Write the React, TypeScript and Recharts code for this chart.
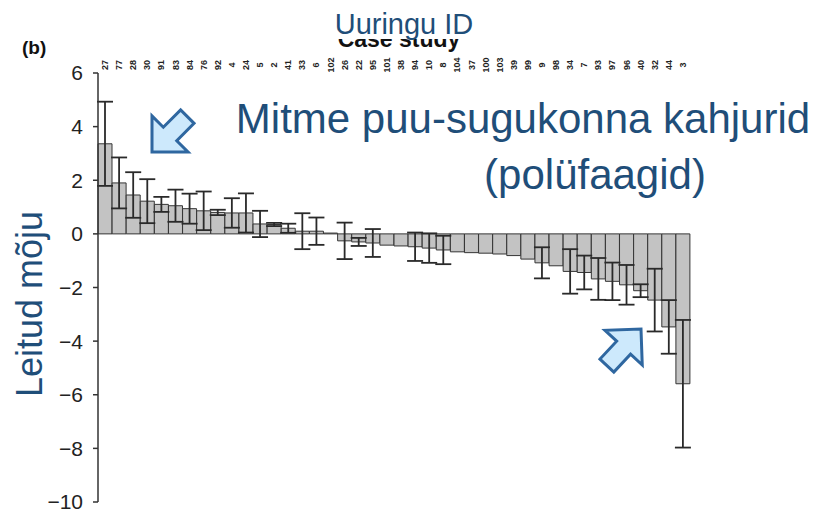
import React from "react";
import { BarChart, Bar, XAxis, YAxis, ErrorBar } from "recharts";

// case study ids along the top axis
const studyIds = [
  "27", "77", "28", "30", "91", "83", "84", "76", "92", "4", "24", "5", "2", "41",
  "33", "6", "102", "26", "22", "95", "101", "38", "94", "10", "8", "104", "37", "100",
  "103", "39", "99", "9", "98", "34", "7", "93", "97", "96", "40", "32", "44", "3",
];

const effects = [
  3.36, 1.9, 1.45, 1.22, 1.1, 1.05, 0.94, 0.86, 0.8, 0.78, 0.78, 0.37, 0.35, 0.21,
  0.1, 0.1, 0.03, -0.26, -0.3, -0.34, -0.42, -0.45, -0.48, -0.53, -0.6, -0.67, -0.7, -0.72,
  -0.75, -0.81, -0.94, -1.08, -1.19, -1.4, -1.44, -1.68, -1.77, -1.9, -2.12, -2.47, -3.47, -5.59,
];

const errors = [
  1.57, 0.95, 0.85, 0.82, 0.28, 0.6, 0.56, 0.72, 0.1, 0.55, 0.73, 0.49, 0.06, 0.17,
  0.67, 0.51, 0, 0.68, 0.15, 0.52, 0, 0, 0.53, 0.55, 0.53, 0, 0, 0,
  0, 0, 0, 0.58, 0, 0.83, 0.63, 0.78, 0.7, 0.74, 0.24, 1.17, 1.0, 2.38,
];

const yTicks = [6, 4, 2, 0, -2, -4, -6, -8, -10];

const data = studyIds.map((id, i) => ({ id, effect: effects[i], err: errors[i] }));

const FONT = "'Liberation Sans', Arial, sans-serif";
const BLUE = "#1f4e79";

function IdTick({ x, y, payload }: { x?: number; y?: number; payload?: { value: string } }) {
  return (
    <text
      x={x}
      y={y}
      transform={`rotate(-90, ${x}, ${y})`}
      textAnchor="middle"
      dominantBaseline="central"
      fontSize={9}
      fontWeight="bold"
      fontFamily={FONT}
      fill="#222"
    >
      {payload?.value}
    </text>
  );
}

// block arrow pointing along +x, tip at origin
const arrowShape = "0,0 -25.5,25.5 -25.5,9.5 -50,9.5 -50,-9.5 -25.5,-9.5 -25.5,-25.5";

function Arrow({ x, y, angle }: { x: number; y: number; angle: number }) {
  return (
    <polygon
      points={arrowShape}
      transform={`translate(${x},${y}) rotate(${angle})`}
      fill="#cde9fc"
      stroke="#2f67a0"
      strokeWidth={3}
      strokeLinejoin="miter"
    />
  );
}

export default function App() {
  return (
    <div style={{ position: "absolute", left: 0, top: 0, width: 831, height: 516, background: "#fff" }}>
      <BarChart
        width={831}
        height={516}
        data={data}
        margin={{ top: 53, right: 141, bottom: 14, left: 0 }}
        barCategoryGap={0}
        barGap={0}
      >
        <XAxis
          dataKey="id"
          orientation="top"
          height={20}
          interval={0}
          axisLine={false}
          tickLine={false}
          tick={<IdTick />}
        />
        <YAxis
          type="number"
          domain={[-10, 6]}
          ticks={yTicks}
          width={98}
          axisLine={{ stroke: "#333", strokeWidth: 1.5 }}
          tickLine={{ stroke: "#333", strokeWidth: 1.5 }}
          tickSize={5}
          tickMargin={10}
          tick={{ fill: "#222", fontSize: 21, fontFamily: FONT }}
          tickFormatter={(v: number) => (v < 0 ? `\u2212${Math.abs(v)}` : `${v}`)}
        />
        <Bar dataKey="effect" fill="#c3c3c3" stroke="#353535" strokeWidth={1} isAnimationActive={false}>
          <ErrorBar dataKey="err" width={8} stroke="#2a2a2a" strokeWidth={1.8} />
        </Bar>
      </BarChart>

      <svg
        width={831}
        height={516}
        style={{ position: "absolute", left: 0, top: 0, pointerEvents: "none" }}
        fontFamily={FONT}
      >
        <text x={22} y={54} fontSize={19} fontWeight="bold" fill="#111">(b)</text>
        <text x={399} y={47} fontSize={23} fontWeight="bold" fill="#111" textAnchor="middle">Case study</text>
        <rect x={320} y={0} width={170} height={39} fill="#fff" />
        <text x={404} y={34} fontSize={29} fill={BLUE} textAnchor="middle">Uuringu ID</text>

        <text x={523} y={133} fontSize={42} fill={BLUE} textAnchor="middle">Mitme puu-sugukonna kahjurid</text>
        <text x={595} y={189} fontSize={42} fill={BLUE} textAnchor="middle">(polüfaagid)</text>

        <text
          x={42}
          y={304}
          fontSize={36}
          fill={BLUE}
          textAnchor="middle"
          transform="rotate(-90, 42, 304)"
        >
          Leitud mõju
        </text>

        <Arrow x={152} y={152} angle={135} />
        <Arrow x={641} y={329} angle={-47} />
      </svg>
    </div>
  );
}
